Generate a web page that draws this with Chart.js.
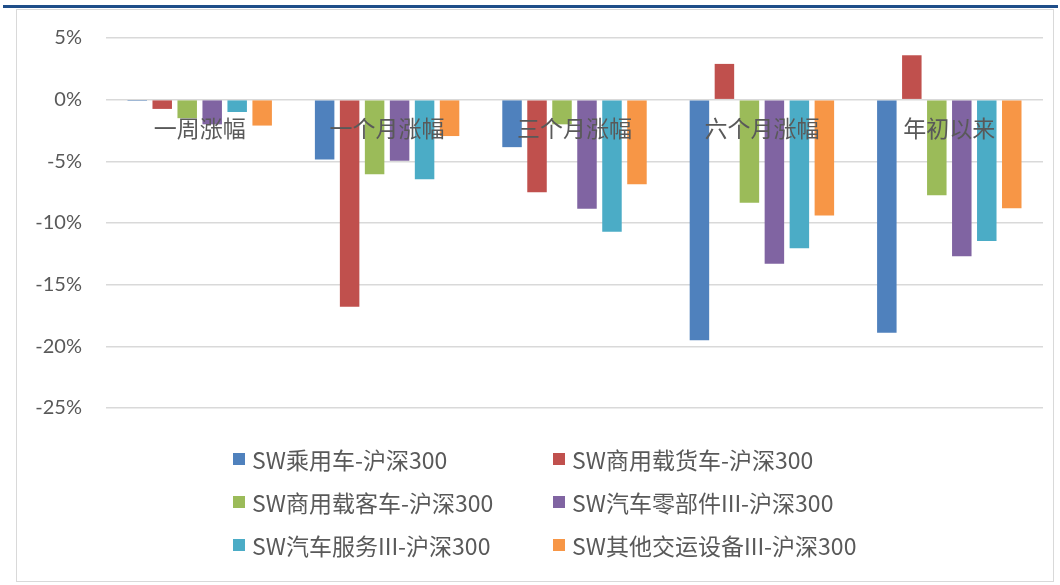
<!DOCTYPE html>
<html>
<head>
<meta charset="utf-8">
<script src="https://cdn.jsdelivr.net/npm/chart.js@4"></script>
<style>
  html, body { margin: 0; padding: 0; background: #fff; }
  #wrap { position: relative; width: 1060px; height: 585px; overflow: hidden; background: #fff; }
  #topline { position: absolute; left: 3px; top: 5px; width: 1055px; height: 3px; background: #1f4e89; }
  #frame { position: absolute; left: 16px; top: 9px; width: 1038px; height: 573px; border: 1px solid #d9d9d9; box-sizing: border-box; }
  #c { position: absolute; left: 0; top: 0; }
  #legend { position: absolute; left: 233px; top: 445px; display: grid; grid-template-columns: 320px 320px; row-gap: 15px;
            font-family: "Noto Sans CJK SC", Lato, sans-serif; font-size: 23px; color: #595959; }
  .li { display: flex; align-items: center; height: 28px; white-space: nowrap; }
  .sw { width: 12px; height: 12px; margin-right: 7px; flex: none; }
</style>
</head>
<body>
<div id="wrap">
  <div id="topline"></div>
  <div id="frame"></div>
  <canvas id="c" width="1060" height="585"></canvas>
  <div id="legend"></div>
</div>
<script>
const categories = ['一周涨幅', '一个月涨幅', '三个月涨幅', '六个月涨幅', '年初以来'];
const seriesNames = [
  'SW乘用车-沪深300',
  'SW商用载货车-沪深300',
  'SW商用载客车-沪深300',
  'SW汽车零部件III-沪深300',
  'SW汽车服务III-沪深300',
  'SW其他交运设备III-沪深300'
];
const seriesColors = ['#4F81BD', '#C0504D', '#9BBB59', '#8064A2', '#4BACC6', '#F79646'];
const passengerCar = [-0.1, -4.85, -3.85, -19.5, -18.9];
const commercialTruck = [-0.75, -16.8, -7.5, 2.9, 3.6];
const commercialBus = [-1.5, -6.05, -2.0, -8.35, -7.75];
const autoParts = [-2.0, -4.95, -8.85, -13.3, -12.7];
const autoService = [-1.0, -6.45, -10.7, -12.05, -11.45];
const otherTransport = [-2.1, -2.95, -6.85, -9.4, -8.8];
const yTicks = [5, 0, -5, -10, -15, -20, -25];

const seriesValues = [passengerCar, commercialTruck, commercialBus, autoParts, autoService, otherTransport];

const datasets = seriesNames.map((name, i) => ({
  label: name,
  data: seriesValues[i],
  backgroundColor: seriesColors[i],
  borderWidth: 0,
  categoryPercentage: 0.80,
  barPercentage: 0.78
}));

const chart = new Chart(document.getElementById('c'), {
  type: 'bar',
  data: { labels: categories, datasets },
  options: {
    responsive: false,
    animation: false,
    devicePixelRatio: 1,
    layout: { padding: { left: 0, right: 17, top: 38, bottom: 177 } },
    plugins: { legend: { display: false }, tooltip: { enabled: false } },
    scales: {
      x: {
        position: { y: 0 },
        grid: { display: false, drawTicks: false },
        border: { display: false },
        ticks: {
          z: 1,
          padding: 15,
          color: '#595959',
          maxRotation: 0,
          font: { family: '"Noto Sans CJK SC", sans-serif', size: 23 }
        }
      },
      y: {
        min: -25,
        max: 5,
        afterFit: s => { s.width = 106; },
        afterBuildTicks: s => { s.ticks = yTicks.map(v => ({ value: v })); },
        grid: { color: '#d9d9d9', lineWidth: 1.5, drawTicks: false },
        border: { display: false },
        ticks: {
          padding: 24,
          color: '#595959',
          font: { family: 'Lato, "Liberation Sans", sans-serif', size: 20 },
          callback: v => v + '%'
        }
      }
    }
  }
});

const lg = document.getElementById('legend');
chart.data.datasets.forEach(ds => {
  const d = document.createElement('div');
  d.className = 'li';
  const sw = document.createElement('span');
  sw.className = 'sw';
  sw.style.background = ds.backgroundColor;
  const t = document.createElement('span');
  t.textContent = ds.label;
  d.appendChild(sw); d.appendChild(t);
  lg.appendChild(d);
});
</script>
</body>
</html>
